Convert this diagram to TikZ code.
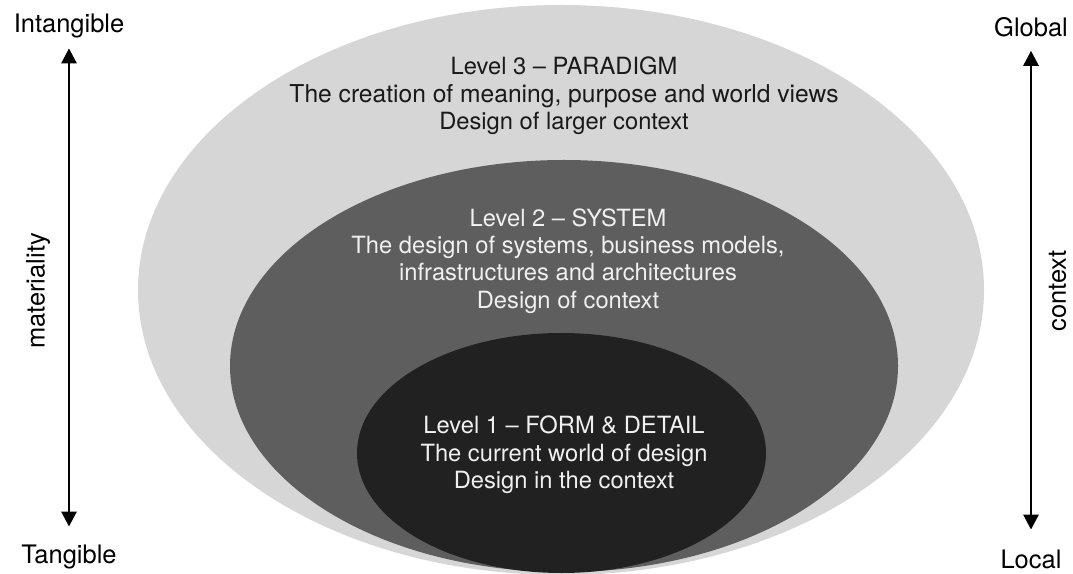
\documentclass[tikz,border=0pt]{standalone}
\usepackage{fontspec}
\setmainfont{TeX Gyre Heros}
\usetikzlibrary{positioning,arrows.meta,shapes.geometric}

\begin{document}
\begin{tikzpicture}[
level/.style={ellipse, inner sep=0pt, draw=none},
txt/.style={align=center, font=\fontsize{13.5}{15.6}\selectfont},
side/.style={inner sep=0pt, font=\fontsize{14.5}{17}\selectfont},
arrow/.style={{Triangle[length=3mm, width=3mm]}-{Triangle[length=3mm, width=3mm]}, line width=1.6pt}
]
\useasboundingbox (0,0) rectangle (21.46,11.46);
% nested levels
\node[level, fill=black!16, minimum width=16.92cm, minimum height=11.4cm] (paradigm) at (11.22,5.66) {};
\node[level, fill=black!63, minimum width=13.36cm, minimum height=8.24cm] (system) at (11.28,4.14) {};
\node[level, fill=black!87, minimum width=8.18cm, minimum height=4.8cm] (form) at (11.23,2.40) {};
\node[txt, text=black!90] (paradigmtxt) at (11.28,9.54) {Level 3 -- PARADIGM\\{\fontsize{14}{15.6}\selectfont The creation of meaning, purpose and world views}\\Design of larger context};
\node[txt, text=black!6] (systemtxt) at (11.36,6.24) {Level 2 -- SYSTEM\\The design of systems, business models,\\infrastructures and architectures\\Design of context};
\node[txt, text=black!6] (formtxt) at (11.28,2.36) {Level 1 -- FORM \& DETAIL\\The current world of design\\Design in the context};
% axes
\node[side, anchor=base] (intangible) at (1.38,10.80) {Intangible};
\node[side, anchor=base] (tangible) at (1.38,0.20) {Tangible};
\node[side, rotate=90] (materiality) at (0.76,5.64) {materiality};
\node[side, anchor=base] (global) at (20.62,10.72) {Global};
\node[side, anchor=base] (local) at (20.62,0.10) {Local};
\node[side, rotate=90] (context) at (21.15,5.64) {context};
\draw[arrow, shorten <=0.19cm, shorten >=0.35cm] (intangible) -- (tangible);
\draw[arrow, shorten <=0.26cm, shorten >=0.39cm] (global) -- (local);
\end{tikzpicture}
\end{document}
